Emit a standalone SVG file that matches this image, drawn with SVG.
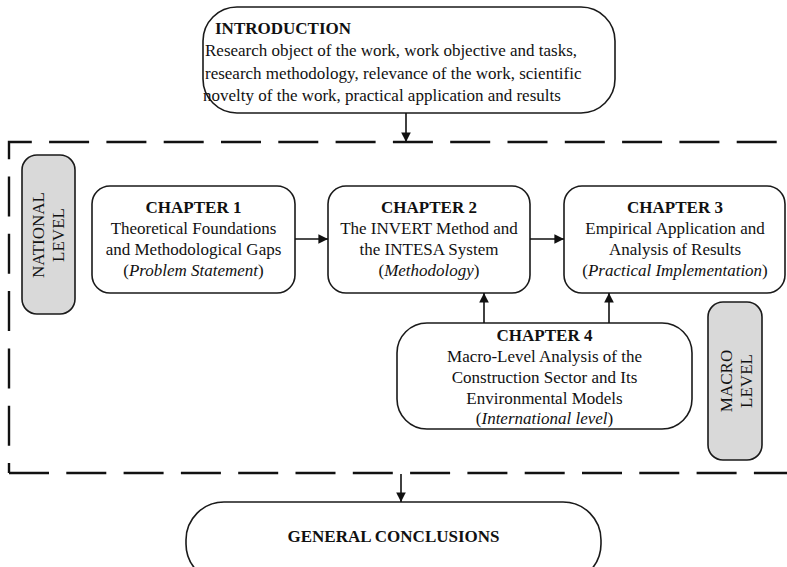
<svg xmlns="http://www.w3.org/2000/svg" width="787" height="567" viewBox="0 0 787 567">
<defs>
<style>
.box{fill:#fff;stroke:#1a1a1a;stroke-width:1.6}
.lvl{fill:#d9d9d9;stroke:#1a1a1a;stroke-width:1.6}
text{font-family:"Liberation Serif","Times New Roman",serif;font-size:17px;fill:#111}
.b{font-weight:bold}
.c{text-anchor:middle}
.i{font-style:italic}
.conn{stroke:#111;stroke-width:1.6;fill:none}
.frame{stroke:#111;stroke-width:2.4;fill:none;stroke-dasharray:40 17.3}
</style>
<marker id="ah" viewBox="0 0 10 10" refX="10" refY="5" markerWidth="6" markerHeight="6" orient="auto" markerUnits="strokeWidth">
<path d="M0,0 L10,5 L0,10 z" fill="#111"/>
</marker>
</defs>
<rect width="787" height="567" fill="#fff"/>
<g id="frame">
<path class="frame" d="M9 473 H800"/>
<path class="frame" d="M9 473 V142 H800" stroke-dashoffset="30"/>
</g>
<g id="introduction">
<rect class="box" x="203" y="7" width="412" height="106" rx="34"/>
<text class="b" x="215" y="34">INTRODUCTION</text>
<text x="205" y="56">Research object of the work, work objective and tasks,</text>
<text x="205" y="79">research methodology, relevance of the work, scientific</text>
<text x="203" y="101">novelty of the work, practical application and results</text>
</g>
<g id="national-level">
<rect class="lvl" x="22" y="155" width="53" height="159" rx="15"/>
<text class="c" transform="translate(48,235) rotate(-90)"><tspan x="0" y="-4">NATIONAL</tspan><tspan x="0" y="16">LEVEL</tspan></text>
</g>
<g id="chapter1">
<rect class="box" x="92" y="186" width="203" height="107" rx="18"/>
<text class="c b" x="193.5" y="213">CHAPTER 1</text>
<text class="c" x="193.5" y="234">Theoretical Foundations</text>
<text class="c" x="193.5" y="255">and Methodological Gaps</text>
<text class="c" x="193.5" y="276">(<tspan class="i">Problem Statement</tspan>)</text>
</g>
<g id="chapter2">
<rect class="box" x="328" y="186" width="202" height="107" rx="18"/>
<text class="c b" x="429" y="213">CHAPTER 2</text>
<text class="c" x="429" y="234">The INVERT Method and</text>
<text class="c" x="429" y="255">the INTESA System</text>
<text class="c" x="429" y="276">(<tspan class="i">Methodology</tspan>)</text>
</g>
<g id="chapter3">
<rect class="box" x="564" y="186" width="221" height="107" rx="18"/>
<text class="c b" x="675" y="213">CHAPTER 3</text>
<text class="c" x="675" y="234">Empirical Application and</text>
<text class="c" x="675" y="255">Analysis of Results</text>
<text class="c" x="675" y="276">(<tspan class="i">Practical Implementation</tspan>)</text>
</g>
<g id="chapter4">
<rect class="box" x="397" y="323" width="295" height="106" rx="30"/>
<text class="c b" x="544.5" y="341">CHAPTER 4</text>
<text class="c" x="544.5" y="362">Macro-Level Analysis of the</text>
<text class="c" x="544.5" y="383">Construction Sector and Its</text>
<text class="c" x="544.5" y="404">Environmental Models</text>
<text class="c" x="544.5" y="424">(<tspan class="i">International level</tspan>)</text>
</g>
<g id="macro-level">
<rect class="lvl" x="708" y="302" width="54" height="158" rx="15"/>
<text class="c" transform="translate(735,381) rotate(-90)"><tspan x="0" y="-3">MACRO</tspan><tspan x="0" y="17">LEVEL</tspan></text>
</g>
<g id="general-conclusions">
<rect class="box" x="186" y="502" width="415" height="80" rx="38"/>
<text class="c b" x="393.5" y="542">GENERAL CONCLUSIONS</text>
</g>
<g id="connectors">
<line class="conn" x1="406" y1="113" x2="406" y2="142" marker-end="url(#ah)"/>
<line class="conn" x1="295" y1="239" x2="328" y2="239" marker-end="url(#ah)"/>
<line class="conn" x1="530" y1="239" x2="564" y2="239" marker-end="url(#ah)"/>
<line class="conn" x1="484" y1="323" x2="484" y2="293" marker-end="url(#ah)"/>
<line class="conn" x1="609" y1="323" x2="609" y2="293" marker-end="url(#ah)"/>
<line class="conn" x1="401" y1="474" x2="401" y2="502" marker-end="url(#ah)"/>
</g>
</svg>
